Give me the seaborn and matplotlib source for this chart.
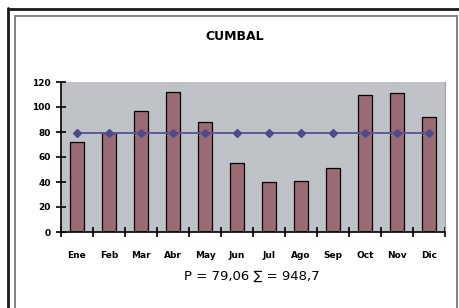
import matplotlib
matplotlib.use("Agg")

import matplotlib.pyplot as plt
import seaborn as sns
import pandas as pd
from matplotlib.lines import Line2D

months = ["Ene", "Feb", "Mar", "Abr", "May", "Jun", "Jul", "Ago", "Sep", "Oct", "Nov", "Dic"]
rain = [72, 79.5, 96.8, 112, 88, 55, 40, 41, 51.5, 110, 111, 92]
mean_value = 79.06
total_value = 948.7
y_ticks = [0, 20, 40, 60, 80, 100, 120]

df = pd.DataFrame({"mes": months, "lluvia": rain})

sns.set_style("white")
plt.rcParams["font.family"] = ["DejaVu Sans"]
plt.rcParams["text.color"] = "black"
plt.rcParams["xtick.color"] = "black"
plt.rcParams["ytick.color"] = "black"

fig = plt.figure(figsize=(4.59, 3.08), dpi=100)
W, H = 459, 308

# frame lines (outer black, inner gray)
fig.add_artist(Line2D([8 / W, 8 / W], [0, 1 - 8 / H], color="#1a1a1a", lw=2.0, transform=fig.transFigure))
fig.add_artist(Line2D([8 / W, 1], [1 - 9 / H, 1 - 9 / H], color="#1a1a1a", lw=2.0, transform=fig.transFigure))
fig.add_artist(Line2D([15 / W, 15 / W], [0, 1 - 15.5 / H], color="#777777", lw=1.3, transform=fig.transFigure))
fig.add_artist(Line2D([15 / W, 456.5 / W], [1 - 15.5 / H, 1 - 15.5 / H], color="#777777", lw=1.3, transform=fig.transFigure))
fig.add_artist(Line2D([456.5 / W, 456.5 / W], [0, 1 - 15.5 / H], color="#777777", lw=1.3, transform=fig.transFigure))

ax = fig.add_axes([61 / W, 1 - 232 / H, (445 - 61) / W, (232 - 82) / H])
ax.set_facecolor("#bfc3c7")

sns.barplot(data=df, x="mes", y="lluvia", color="#9b6b74", width=0.44,
            edgecolor="black", linewidth=0.9, saturation=1, ax=ax)

ax.plot(range(len(months)), [mean_value] * len(months), color="#5b5b9b",
        lw=1.4, marker="D", markersize=4.5, markerfacecolor="#4a4a8c",
        markeredgecolor="#4a4a8c", zorder=5)

ax.set_ylim(0, 120)
ax.set_xlim(-0.5, len(months) - 0.5)
ax.set_yticks(y_ticks)
ax.set_yticklabels([str(t) for t in y_ticks], fontsize=6.5, fontweight="bold")
ax.set_xticks([i - 0.5 for i in range(len(months) + 1)], minor=False)
ax.set_xticklabels([""] * (len(months) + 1))
ax.set_xticks(range(len(months)), minor=True)
ax.set_xticklabels(months, minor=True, fontsize=6.5, fontweight="bold")
ax.tick_params(axis="x", which="minor", bottom=False, length=0, pad=14)
ax.tick_params(axis="x", which="major", bottom=True, direction="inout",
               length=7, width=1.2, color="black")
ax.tick_params(axis="y", left=True, direction="inout", length=7, width=1.2,
               color="black", pad=4)
ax.set_xlabel("")
ax.set_ylabel("")

ax.spines["top"].set_visible(False)
ax.spines["right"].set_color("#a0a4a8")
ax.spines["right"].set_linewidth(0.8)
ax.spines["left"].set_color("black")
ax.spines["left"].set_linewidth(1.2)
ax.spines["bottom"].set_color("black")
ax.spines["bottom"].set_linewidth(1.2)
ax.grid(False)

fig.text(235 / W, 1 - 37 / H, "CUMBAL", ha="center", va="center",
         fontsize=9, fontweight="bold")
label = "P = " + f"{mean_value:.2f}".replace(".", ",") + " \u2211 = " + f"{total_value:.1f}".replace(".", ",")
fig.text(252 / W, 1 - 276 / H, label, ha="center", va="center", fontsize=9.5)

fig.savefig("out.png", dpi=100)
